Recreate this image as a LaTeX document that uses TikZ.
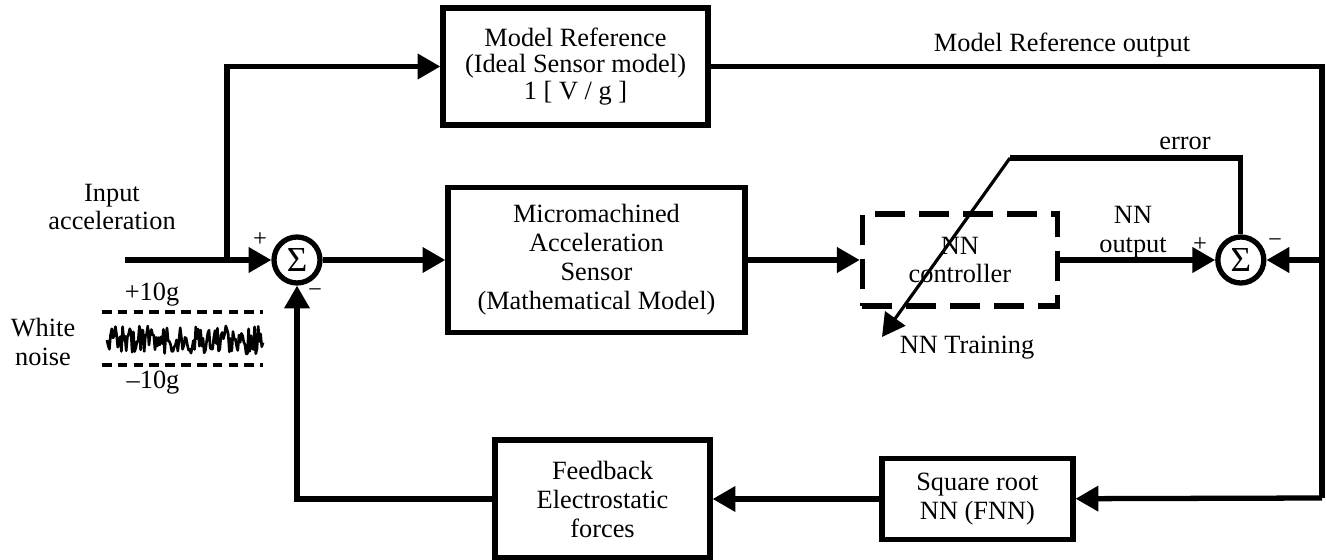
\documentclass[tikz,border=0pt]{standalone}
\usepackage{fontspec}
\setmainfont{Liberation Serif}
\usetikzlibrary{arrows.meta}

\begin{document}
\begin{tikzpicture}[x=0.02cm,y=-0.02cm,>={Triangle[length=13pt,width=14pt]},
  line width=3pt,
  block node/.style={rectangle,draw,align=center,inner sep=2pt,font=\fontsize{15}{16.5}\selectfont},
  sum node/.style={circle,draw,minimum size=0.92cm,inner sep=0pt,font=\fontsize{20}{20}\selectfont},
  nn node/.style={block node,dash pattern=on 17pt off 8pt},
  label node/.style={align=center,font=\fontsize{15}{16.5}\selectfont},
  sign node/.style={font=\fontsize{14}{14}\selectfont}]
  \useasboundingbox (0,0) rectangle (1327,560);

  % blocks of the middle row
  \node[sum node] (sum1) at (297,260) {Σ};
  \node[block node, minimum width=5.94cm, minimum height=2.9cm] (micro) [right of=sum1, node distance=5.99cm]
    {Micromachined\\Acceleration\\Sensor\\(Mathematical Model)};
  \node[nn node, minimum width=3.9cm, minimum height=1.84cm] (nnc) [right of=micro, node distance=7.27cm] {NN\\controller};
  \node[sum node] (sum2) [right of=nnc, node distance=5.62cm] {Σ};

  % top and bottom blocks
  \node[block node, minimum width=5.3cm, minimum height=2.34cm, font=\fontsize{15}{15}\selectfont] (modelref) at (575.5,66.5)
    {Model Reference\\(Ideal Sensor model)\\1 [ V / g ]};
  \node[block node, minimum width=4.3cm, minimum height=2.36cm] (fb) at (602.5,499) {Feedback\\Electrostatic\\forces};
  \node[block node, minimum width=3.82cm, minimum height=1.62cm] (sqrt) [right of=fb, node distance=7.5cm] {Square root\\NN (FNN)};

  % labels
  \node[label node] (inlbl) at (112,207) {Input\\acceleration};
  \node[label node] (noiselbl) at (43,342) {White\\noise};
  \node[label node] (hilbl) at (152,295) {+10g};
  \node[label node] (lolbl) at (153,383) {–10g};
  \node[label node] (outlbl) at (1062,45) {Model Reference output};
  \node[label node] (errlbl) at (1185,143) {error};
  \node[label node] (nnoutlbl) at (1133,232) {NN\\output};
  \node[label node] (trainlbl) at (967,348) {NN Training};
  \node[sign node] (p1) at (260,240) {+};
  \node[sign node] (m1) at (315,293) {−};
  \node[sign node] (p2) at (1200,245) {+};
  \node[sign node] (m2) at (1275,243) {−};

  \coordinate (in) at (125,260);
  \coordinate (split) at (227,260);
  \coordinate (tr) at (1322,66.5);
  \coordinate (br) at (1322,498);
  \coordinate (errknee) at (1010,158);
  \coordinate (traintip) at (882,337);

  % signal paths
  \draw[->] (in) -- (sum1);
  \draw[->] (split) |- (modelref);
  \path[->] (sum1) edge (micro)
    (micro) edge (nnc)
    (nnc) edge (sum2);
  \draw (modelref) -- (tr) -- (br);
  \draw[->] (br) -- (sqrt);
  \draw[->] (tr |- sum2) -- (sum2);
  \draw[->] (sqrt) -- (fb);
  \draw[->] (fb) -| (sum1);
  \draw (sum2) -- (sum2 |- errknee) -- (errknee);
  \draw[->, line width=1.8pt] (errknee) -- (traintip);

  % white noise
  \draw[line width=1.8pt, dash pattern=on 5.5pt off 3.5pt] (102,312) -- (263,312);
  \draw[line width=1.8pt, dash pattern=on 5.5pt off 3.5pt] (102,365) -- (263,365);
  \pgfmathsetseed{3}
  \draw[line width=1.5pt, line join=round] (107,340)
    \foreach \i in {108.2,109.4,...,263} { -- (\i,{340+14*rand}) };
\end{tikzpicture}
\end{document}
